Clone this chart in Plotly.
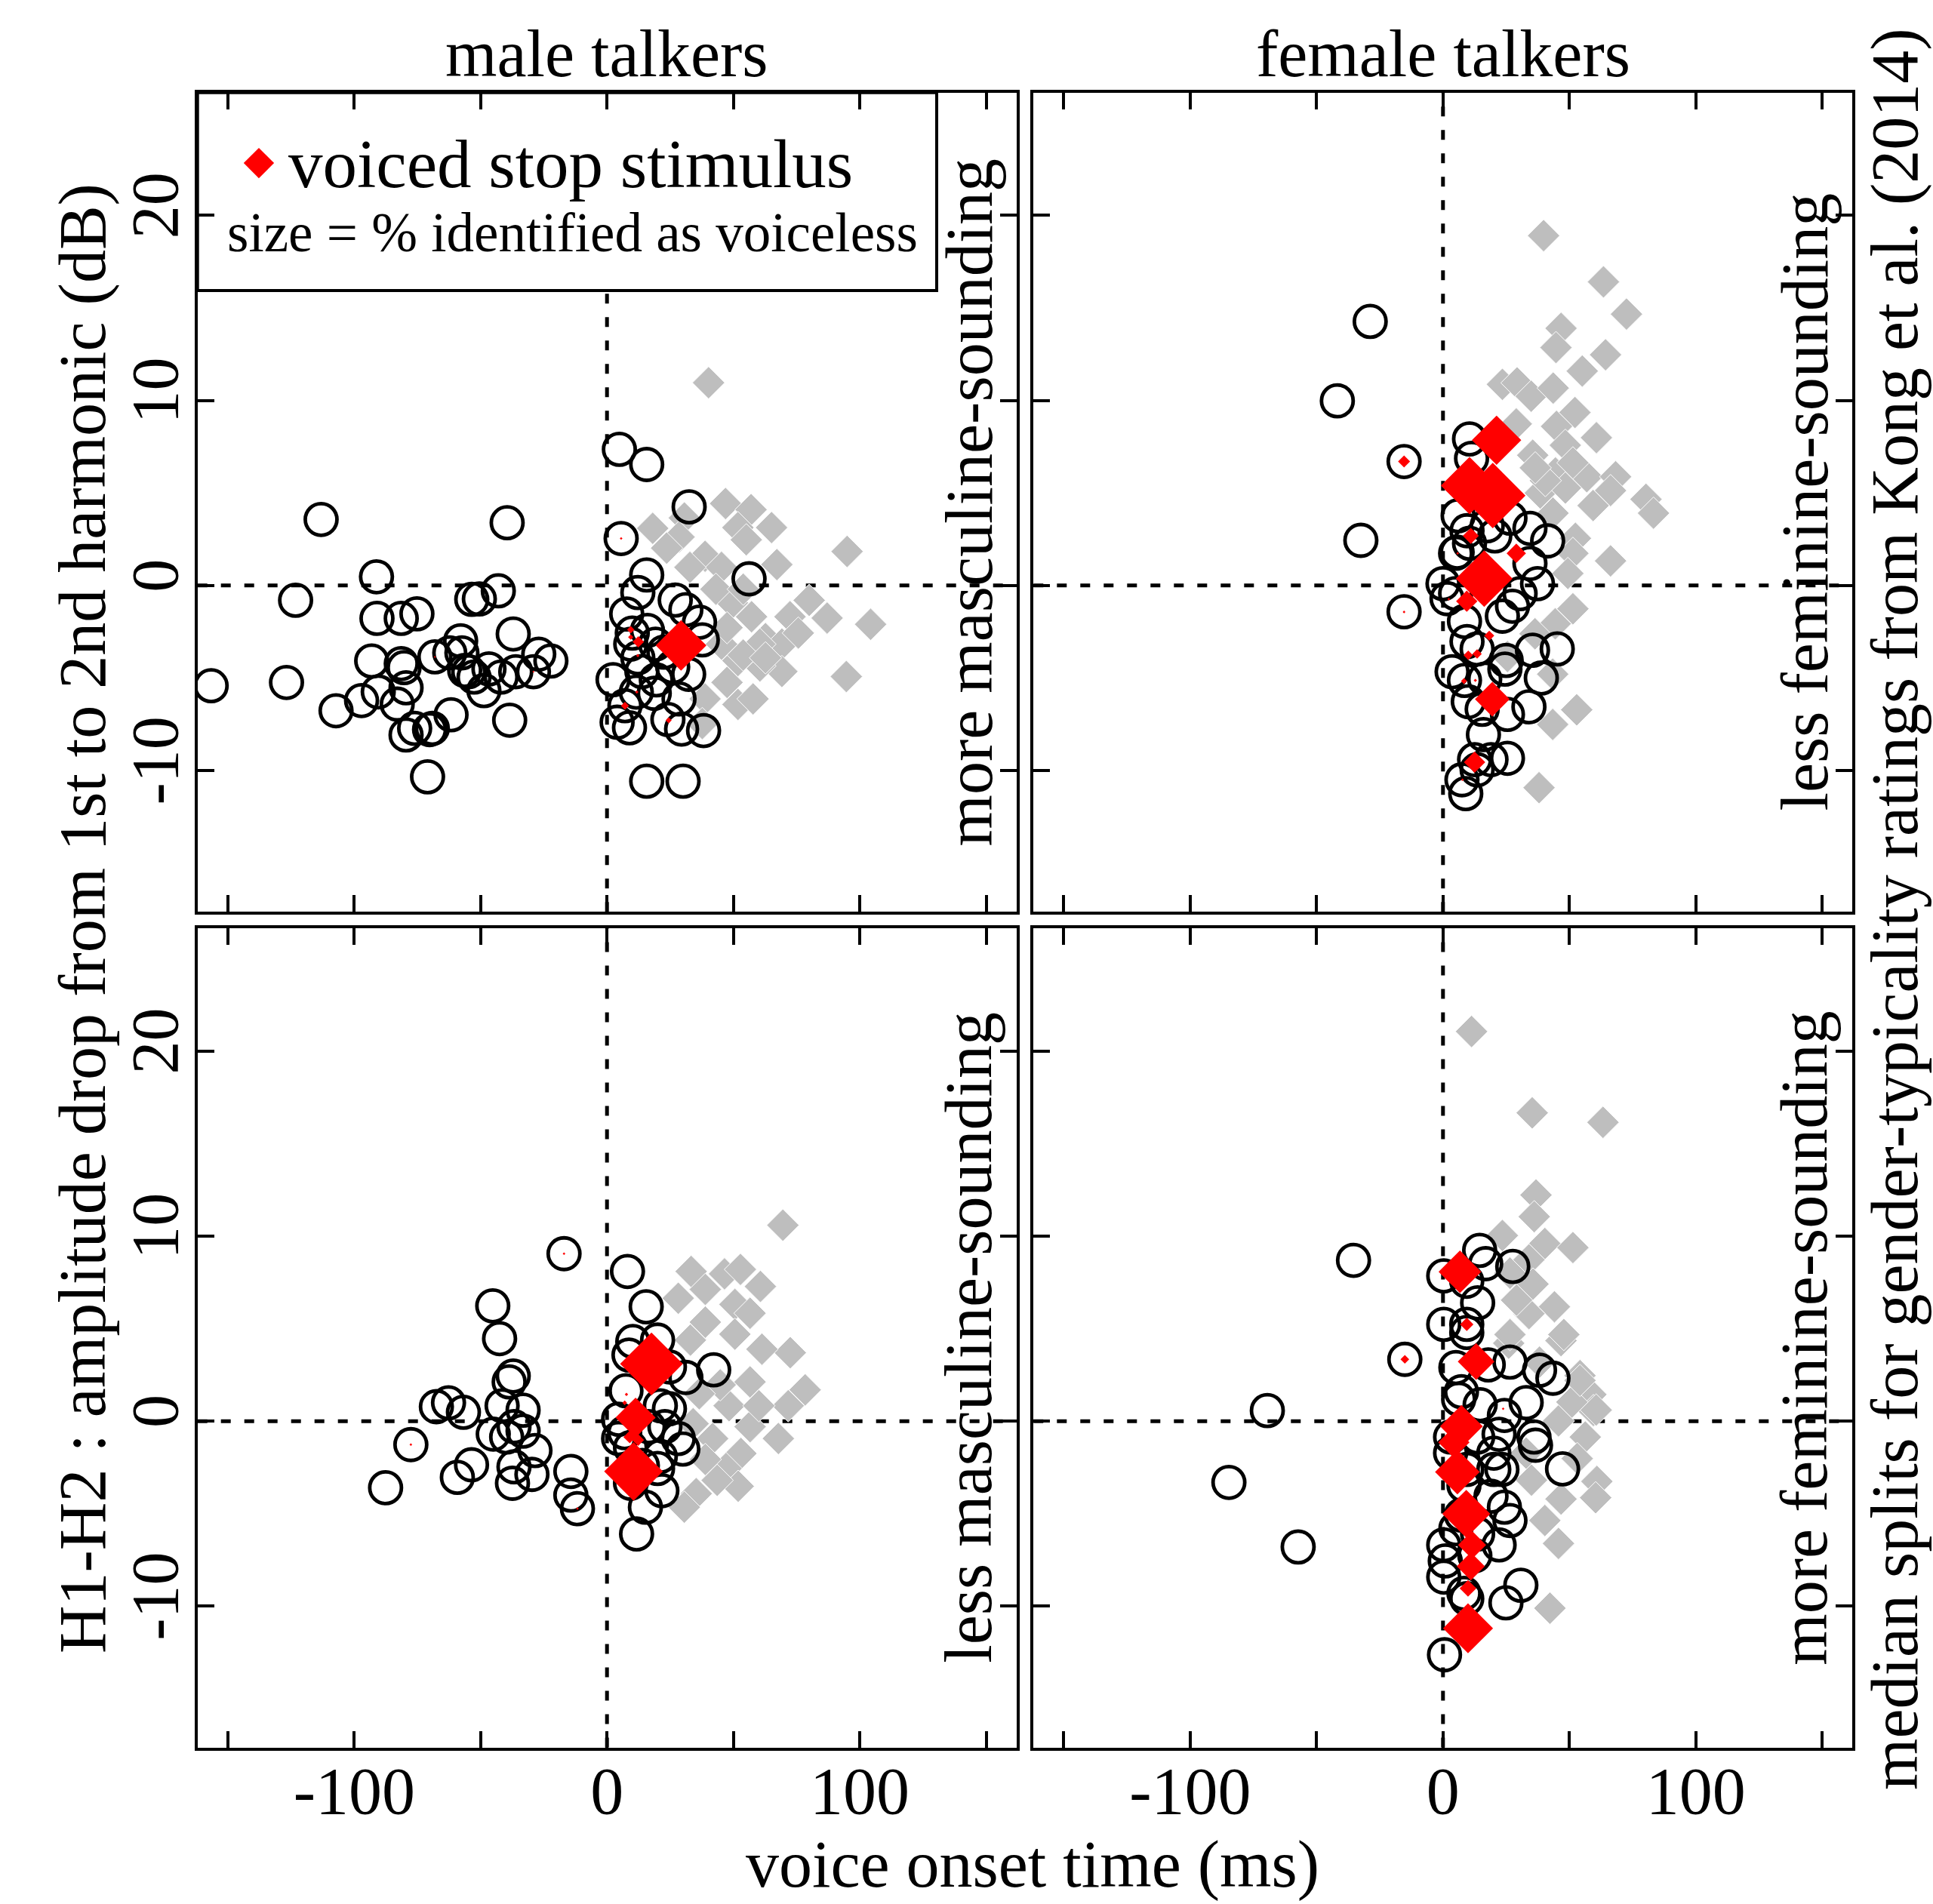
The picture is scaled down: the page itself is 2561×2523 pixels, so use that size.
import plotly.graph_objects as go

# ------------------------------------------------------------------ data
# male talkers, more masculine-sounding (top-left)
ml_voiced_vot = [-156.6, -126.8, -113.1, -123.2, -91.2, -91.0, -81.4, -75.2, -93.1, -81.4, -80.3, -79.5,
                 -90.5, -97.1, -107.2, -83.0, -79.5, -76.1, -70.2, -69.1, -61.7, -71.0, -68.1, -62.2,
                 -57.9, -57.4, -56.3, -52.6, -50.5, -43.0, -48.7, -46.7, -41.9, -37.1, -39.5, -36.1,
                 -38.5, -29.1, -27.0, -22.2, -54.7, -53.5,
                 4.9, 15.7, 32.5, 5.6, 15.7, 12.2, 56.2, 7.8, 27.0, 31.2, 36.6, 37.7, 10.0, 16.0, 9.4,
                 19.2, 12.2, 2.4, 13.8, 32.3, 11.6, 18.7, 28.5, 7.1, 4.0, 8.9, 24.1, 29.5, 38.2, 15.7,
                 30.1, 22.5, 19.5, 26.0]
ml_voiced_h1h2 = [-5.42, -5.24, 3.57, -0.80, 0.47, -1.78, -1.78, -1.53, -4.08, -4.22, -4.44, -5.53,
                  -5.75, -6.22, -6.77, -6.41, -8.08, -7.72, -7.79, -7.72, -6.99, -10.34, -3.86, -3.64,
                  -2.99, -3.64, -4.59, -4.95, -0.73, -0.29, -5.68, -4.51, -4.95, -2.62, 3.39, -4.66,
                  -7.28, -4.66, -3.71, -4.08, -4.66, -0.75,
                  7.36, 6.54, 4.25, 2.54, 0.57, -0.38, 0.36, -1.54, -0.79, -1.31, -1.98, -2.94, -2.57,
                  -2.43, -3.17, -3.17, -3.91, -5.09, -4.65, -4.80, -5.76, -5.83, -6.13, -6.50, -7.39,
                  -7.69, -7.24, -7.76, -7.84, -10.58, -10.58, -3.6, -5.1, -4.4]
ml_voiceless_vot = [40.2, 46.9, 57.0, 65.1, 18.1, 30.6, 51.8, 55.1, 28.5, 23.6, 38.8, 67.2, 95.0, 45.3,
                    32.8, 80.0, 87.1, 104.3, 72.4, 62.7, 69.2, 75.7, 57.2, 49.6, 43.1, 53.9, 94.7, 69.2,
                    60.5, 51.8, 47.5, 51.8, 57.8, 38.8, 37.7, 45.3, 47.5, 60.5, 53.9, 62.7]
ml_voiceless_h1h2 = [10.96, 4.43, 4.10, 3.13, 3.09, 3.65, 3.13, 2.47, 2.62, 2.02, 1.58, 1.13, 1.84, 0.98,
                     0.98, -0.80, -1.76, -2.10, -1.69, -2.87, -3.17, -2.57, -1.69, -0.94, -0.20, -0.20,
                     -4.92, -4.65, -4.35, -4.06, -5.24, -6.43, -6.13, -6.13, -7.46, -3.17, -2.28, -3.17,
                     -3.76, -3.91]
ml_stim_vot = [29.3, 9.4, 9.4, 12.4, 12.2, 11.8, 7.1, 24.4, 5.6, -68.1, -29.1]
ml_stim_h1h2 = [-3.24, -2.39, -2.79, -3.05, -3.79, -5.76, -6.50, -7.29, 2.54, -3.86, -4.66]
ml_stim_pct = [76, 11, 8, 17, 5, 5, 12, 9, 4, 3, 3]

# female talkers, less feminine-sounding (top-right)
fl_voiced_vot = [-28.8, -41.8, -15.4, -32.5, 10.5, 11.3, 6.0, 26.5, 34.4, 41.4, 5.6, 20.5, 9.5, 10.5, 17.5,
                 0.0, 1.6, -15.4, 8.5, 9.5, 13.5, 25.0, 35.4, 45.2, 3.6, 8.5, 38.9, 10.0, 15.5, 25.5,
                 34.0, 25.5, 16.0, 12.5, 19.0, 7.5, 9.0, 5.0, 27.5, 23.5, 30.5, 37.4, 34.4, 5.0, 16.5,
                 24.5, 13.5]
fl_voiced_h1h2 = [14.27, 9.98, 6.70, 2.44, 7.92, 6.87, 3.77, 3.64, 3.09, 2.41, 1.80, 2.68, 2.96, 2.28, 3.23,
                  0.10, -0.71, -1.42, -1.94, -3.03, -3.43, -4.05, -3.50, -3.43, -4.66, -5.13, -5.00,
                  -6.28, -6.69, -6.97, -6.56, -9.34, -8.06, -9.41, -9.41, -10.50, -11.25, -0.44, -1.12,
                  -1.66, -0.44, 0.10, 1.19, 1.74, -5.06, -4.52, -9.96]
fl_voiceless_vot = [39.8, 63.5, 72.6, 46.7, 44.7, 64.3, 55.1, 23.5, 29.3, 34.9, 43.6, 52.2, 29.0, 44.9,
                    60.7, 35.5, 48.4, 56.9, 68.3, 80.3, 83.3, 66.3, 59.4, 44.5, 38.5, 48.4, 52.4, 66.3,
                    51.4, 40.5, 43.5, 36.5, 51.4, 49.4, 51.4, 44.4, 43.4, 52.9, 43.4, 38.0, 25.5, 36.4]
fl_voiceless_h1h2 = [18.91, 16.41, 14.67, 13.90, 12.86, 12.47, 11.59, 10.87, 10.95, 10.23, 10.67, 9.35,
                     8.73, 8.60, 7.99, 7.04, 7.58, 5.88, 5.88, 4.66, 3.91, 5.13, 4.32, 6.08, 5.00, 5.27,
                     2.55, 1.33, 6.63, 5.67, 3.91, 6.36, 1.74, 0.65, -1.26, -2.07, -4.79, -6.72, -7.51,
                     -10.93, -3.84, -2.61]
fl_stim_vot = [21.2, 10.5, 19.7, 11.0, 29.0, 16.3, 9.4, 18.3, 13.5, 10.0, 8.3, 12.8, 19.5, 12.5, 5.8,
               2.3, -15.4, 7.7, -15.4]
fl_stim_h1h2 = [7.85, 5.40, 4.86, 2.68, 1.74, 0.37, -0.85, -2.71, -3.70, -3.77, -5.17, -5.13, -6.15,
                -9.55, 1.74, -0.74, -1.43, -10.50, 6.70]
fl_stim_pct = [74, 86, 98, 24, 29, 85, 32, 15, 14, 14, 9, 5, 52, 32, 4, 4, 4, 4, 18]

# male talkers, less masculine-sounding (bottom-left)
mm_voiced_vot = [-17.0, -45.2, -42.5, -87.6, -77.6, -67.5, -62.7, -56.8, -59.2, -53.6, -38.7, -37.1,
                 -41.5, -33.2, -45.0, -39.7, -36.8, -33.2, -28.5, -36.8, -29.7, -37.4, -14.3, -14.3,
                 -11.7, 8.1, 15.5, 20.0, 10.2, 8.7, 31.2, 42.2, 24.7, 7.5, 4.6, 7.0, 9.3, 21.1, 22.9,
                 30.0, 21.1, 9.3, 21.7, 15.2, 11.7, 20.0, 14.0, 28.2, 4.6, 16.4, 24.7]
mm_voiced_h1h2 = [9.05, 6.23, 4.46, -3.60, -1.27, 0.78, 0.99, 0.48, -3.04, -2.36, 2.12, 2.44, 0.83, 0.59,
                  -0.70, -0.86, -0.30, -0.54, -1.59, -2.47, -2.88, -3.36, -2.72, -4.00, -4.73, 8.09,
                  6.18, 4.38, 4.30, 3.57, 2.36, 2.77, 2.93, 1.64, 0.10, -0.62, -1.43, 0.83, -0.30,
                  -1.51, -1.91, -3.36, -3.76, -4.65, -6.10, -2.56, -2.40, -0.94, -0.94, -0.30, 0.67]
mm_voiceless_vot = [69.6, 33.3, 46.5, 52.8, 38.9, 60.7, 28.2, 50.6, 56.6, 38.9, 33.0, 72.5, 50.6, 61.3,
                    56.6, 78.4, 71.7, 48.3, 44.8, 36.5, 67.8, 56.6, 41.8, 53.0, 47.1, 51.9, 43.6, 35.3,
                    30.6, 34.1, 38.9, 60.1]
mm_voiceless_h1h2 = [10.59, 8.09, 7.96, 8.20, 7.12, 7.28, 6.64, 6.31, 5.83, 5.35, 4.38, 3.70, 4.70, 3.89,
                     2.12, 1.69, 0.83, 0.83, 1.96, 1.48, -0.94, -0.30, -0.94, -1.75, -2.56, -3.52, -3.20,
                     -3.92, -4.65, -0.14, -2.07, 0.83]
mm_stim_vot = [17.6, 11.3, 10.5, 9.0, 12.3, 7.0, 7.7, -17.0, -77.6, -11.7]
mm_stim_h1h2 = [3.09, 0.19, -2.72, -0.86, -1.02, 0.99, 1.44, 9.05, -1.27, -4.73]
mm_stim_pct = [94, 60, 88, 19, 18, 7, 5, 4, 4, 4]

# female talkers, more feminine-sounding (bottom-right)
fm_voiced_vot = [-35.4, -15.1, -69.5, 14.5, 16.9, 27.6, 0.3, 9.4, 13.7, 0.3, 9.4, 9.4, 5.1, 26.5, 38.2,
                 43.5, 17.9, 32.9, 7.3, -84.7, -57.3, 6.2, 14.7, 24.3, 36.0, 36.6, 47.3, 3.0, 22.2, 20.1,
                 20.1, 3.0, 8.3, 19.0, 24.3, 22.2, 7.3, 5.1, 0.3, 0.9, 0.3, 8.3, 9.4, 30.8, 24.9, 0.6,
                 12.6, 13.7, 26.5, 23.3, 13.7, 9.4]
fm_voiced_h1h2 = [8.69, 3.34, 0.57, 9.23, 8.51, 8.36, 7.85, 7.56, 6.39, 5.23, 5.23, 4.79, 2.90, 3.19, 2.75,
                  2.32, 3.04, 1.00, 1.59, -3.31, -6.80, 1.18, 0.89, 0.31, -0.86, -1.30, -2.58, -0.86,
                  -0.71, -1.73, -2.61, -1.73, -3.48, -4.06, -4.65, -6.69, -5.08, -5.81, -6.69, -7.56,
                  -8.43, -9.31, -9.60, -8.87, -9.82, -12.63, -7.27, -6.10, -5.37, -2.61, -0.86, -2.61]
fm_voiceless_vot = [11.3, 35.3, 63.3, 36.8, 36.1, 23.5, 40.3, 51.4, 34.0, 35.6, 26.5, 44.1, 34.0, 26.0,
                    46.7, 38.2, 54.2, 58.5, 59.5, 29.1, 47.8, 60.6, 56.3, 53.1, 60.9, 60.4, 46.7, 40.3,
                    45.7, 42.3, 35.0, 45.7, 51.0, 54.2, 32.9, 26.5]
fm_voiceless_h1h2 = [21.06, 16.66, 16.15, 12.22, 11.05, 10.03, 9.60, 9.38, 8.72, 7.41, 8.00, 6.18, 5.81,
                     4.21, 4.35, 3.19, 2.46, 1.44, 0.57, 6.54, 4.68, 0.60, -0.86, -2.02, -3.26, -4.14,
                     -4.21, -5.37, -6.61, -10.11, -3.19, 0.01, 1.03, 2.20, -1.73, 4.68]
fm_stim_vot = [6.7, 9.4, 13.1, 7.3, 4.3, 5.7, 9.2, 11.5, 11.0, 9.9, 9.9, -15.1, 23.8]
fm_stim_h1h2 = [8.07, 5.23, 3.22, -0.28, -1.15, -2.75, -5.01, -6.69, -7.85, -9.04, -11.2, 3.34, 0.67]
fm_stim_pct = [64, 20, 55, 64, 47, 67, 72, 42, 42, 25, 75, 13, 4]

# axis ticks
x_tickvals = [-150, -100, -50, 0, 50, 100, 150]
x_ticktext = ["", "-100", "", "0", "", "100", ""]
y_tickvals = [-10, 0, 10, 20]
y_ticktext = ["-10", "0", "10", "20"]

col_titles = ["male talkers", "female talkers"]
panel_labels = ["more masculine-sounding", "less feminine-sounding",
                "less masculine-sounding", "more feminine-sounding"]
x_title = "voice onset time (ms)"
y_title = "H1-H2 : amplitude drop from 1st to 2nd harmonic (dB)"
right_title = "median splits for gender-typicality ratings from Kong et al. (2014)"
legend_line1 = "voiced stop stimulus"
legend_line2 = "size = % identified as voiceless"

# ------------------------------------------------------------------ layout constants
W, H = 2561, 2523
FONT = "Liberation Serif"
FS = 88
XR = [-162, 162]
YR = [-17.64, 26.64]
XDOM = {"L": [261.7 / W, 1346.7 / W], "R": [1369.3 / W, 2454.3 / W]}
YDOM = {"T": [1 - 1208.3 / H, 1 - 122.7 / H], "B": [1 - 2315.6 / H, 1 - 1230.0 / H]}
GREY = "#BEBEBE"
PCT_TO_SIZE = 0.68

panels = [
    dict(ax="", xd="L", yd="T", v=(ml_voiced_vot, ml_voiced_h1h2), vl=(ml_voiceless_vot, ml_voiceless_h1h2),
         s=(ml_stim_vot, ml_stim_h1h2, ml_stim_pct), xlab=False, ylab=True),
    dict(ax="2", xd="R", yd="T", v=(fl_voiced_vot, fl_voiced_h1h2), vl=(fl_voiceless_vot, fl_voiceless_h1h2),
         s=(fl_stim_vot, fl_stim_h1h2, fl_stim_pct), xlab=False, ylab=False),
    dict(ax="3", xd="L", yd="B", v=(mm_voiced_vot, mm_voiced_h1h2), vl=(mm_voiceless_vot, mm_voiceless_h1h2),
         s=(mm_stim_vot, mm_stim_h1h2, mm_stim_pct), xlab=True, ylab=True),
    dict(ax="4", xd="R", yd="B", v=(fm_voiced_vot, fm_voiced_h1h2), vl=(fm_voiceless_vot, fm_voiceless_h1h2),
         s=(fm_stim_vot, fm_stim_h1h2, fm_stim_pct), xlab=True, ylab=False),
]

fig = go.Figure()
tickfont = dict(family=FONT, size=FS, color="black")
axis_common = dict(showgrid=False, zeroline=False, showline=True, linecolor="black", linewidth=4,
                   mirror="ticks", ticks="inside", ticklen=22, tickwidth=4, tickcolor="black",
                   tickfont=tickfont, fixedrange=True)
dash = dict(color="black", width=5, dash="13px,18px")
shapes = []

for p in panels:
    a = p["ax"]
    xa, ya = "x" + a, "y" + a
    fig.add_trace(go.Scatter(x=p["vl"][0], y=p["vl"][1], mode="markers", xaxis=xa, yaxis=ya,
                             marker=dict(symbol="diamond", size=33, color=GREY, opacity=1,
                                         line=dict(color="white", width=1)),
                             showlegend=False, hoverinfo="skip"))
    fig.add_trace(go.Scatter(x=p["v"][0], y=p["v"][1], mode="markers", xaxis=xa, yaxis=ya,
                             marker=dict(symbol="circle-open", size=42, color="black", opacity=1,
                                         line=dict(color="black", width=4.8)),
                             showlegend=False, hoverinfo="skip"))
    fig.add_trace(go.Scatter(x=p["s"][0], y=p["s"][1], mode="markers", xaxis=xa, yaxis=ya,
                             marker=dict(symbol="diamond", size=[v * PCT_TO_SIZE for v in p["s"][2]],
                                         color="#FF0000", opacity=1, line=dict(width=0)),
                             showlegend=False, hoverinfo="skip"))
    xkey = "xaxis" + a
    ykey = "yaxis" + a
    fig.layout[xkey] = dict(axis_common, range=XR, domain=XDOM[p["xd"]], anchor=ya,
                            tickvals=x_tickvals, ticktext=x_ticktext, showticklabels=p["xlab"],
                            ticklabelstandoff=-22)
    fig.layout[ykey] = dict(axis_common, range=YR, domain=YDOM[p["yd"]], anchor=xa,
                            tickvals=y_tickvals, ticktext=y_ticktext, showticklabels=p["ylab"],
                            tickangle=-90, ticklabelstandoff=-12)
    shapes.append(dict(type="line", xref=xa, yref=ya + " domain", x0=0, x1=0, y0=0, y1=1,
                       line=dash, layer="below"))
    shapes.append(dict(type="line", xref=xa + " domain", yref=ya, x0=0, x1=1, y0=0, y1=0,
                       line=dash, layer="below"))

# legend box (top-left panel)
shapes.append(dict(type="rect", xref="x domain", yref="y domain", x0=0, x1=0.9026, y0=0.7584, y1=1,
                   fillcolor="white", line=dict(color="black", width=4), layer="below"))
key_fx, key_fy = 0.0749, 0.914
fig.add_trace(go.Scatter(x=[XR[0] + key_fx * (XR[1] - XR[0])], y=[YR[0] + key_fy * (YR[1] - YR[0])],
                         mode="markers", xaxis="x", yaxis="y",
                         marker=dict(symbol="diamond", size=31, color="#FF0000", opacity=1,
                                     line=dict(width=0)),
                         showlegend=False, hoverinfo="skip"))

ann = []
def text(s, x, y, size=FS, angle=0, xanchor="center"):
    ann.append(dict(text=s, x=x, y=y, xref="paper", yref="paper", showarrow=False,
                    xanchor=xanchor, yanchor="middle", textangle=angle,
                    font=dict(family=FONT, size=size, color="black")))

text(col_titles[0], 804.2 / W, 1 - 72 / H)
text(col_titles[1], 1911.8 / W, 1 - 72 / H)
text(x_title, 1368 / W, 1 - 2470 / H)
text(y_title, 109 / W, 1 - 1217 / H, angle=-90)
text(right_title, 2510 / W, 1 - 1205 / H, angle=-90)
text(panel_labels[0], 1284 / W, 1 - 665.5 / H, angle=-90)
text(panel_labels[1], 2391 / W, 1 - 665.5 / H, angle=-90)
text(panel_labels[2], 1284 / W, 1 - 1772.8 / H, angle=-90)
text(panel_labels[3], 2391 / W, 1 - 1772.8 / H, angle=-90)
text(legend_line1, 380 / W, 1 - 217 / H, size=91, xanchor="left")
text(legend_line2, 299 / W, 1 - 309 / H, size=73, xanchor="left")

fig.update_layout(width=W, height=H, margin=dict(l=0, r=0, t=0, b=0, pad=0),
                  paper_bgcolor="white", plot_bgcolor="white", showlegend=False,
                  shapes=shapes, annotations=ann, hovermode=False,
                  font=dict(family=FONT, size=FS, color="black"))

fig.write_html("out.html", config={"displayModeBar": False, "staticPlot": True},
               post_script="document.body.style.margin='0';document.body.style.overflow='hidden';")
